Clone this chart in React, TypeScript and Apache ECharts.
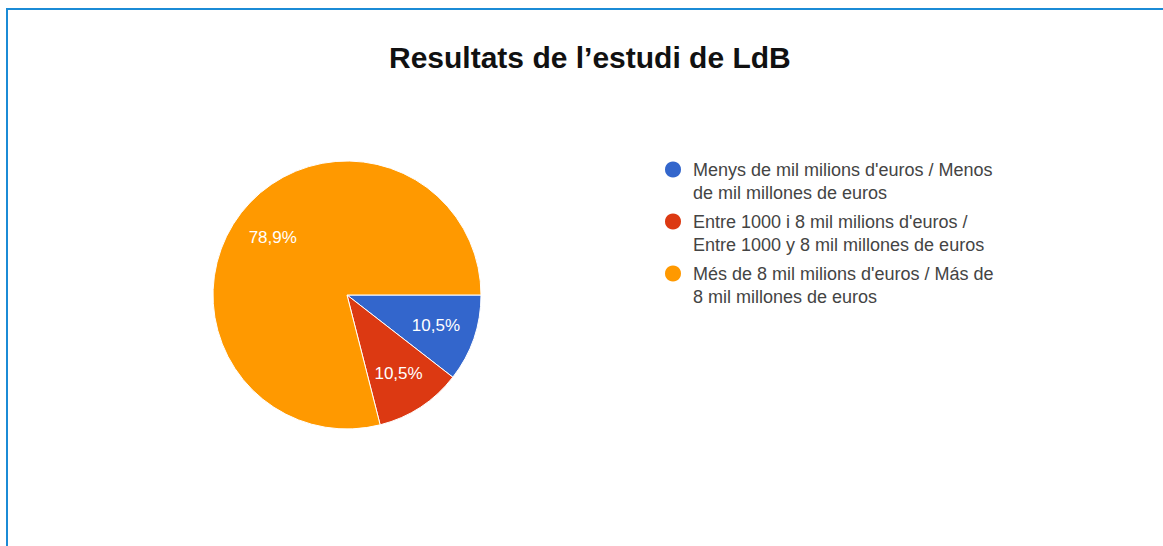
import React, { useEffect, useRef } from "react";
import * as echarts from "echarts";

const titleText = "Resultats de l’estudi de LdB";
const categories = [
  "Menys de mil milions d'euros / Menos de mil millones de euros",
  "Entre 1000 i 8 mil milions d'euros / Entre 1000 y 8 mil millones de euros",
  "Més de 8 mil milions d'euros / Más de 8 mil millones de euros",
];
const legendLabels = [
  "Menys de mil milions d'euros / Menos\nde mil millones de euros",
  "Entre 1000 i 8 mil milions d'euros /\nEntre 1000 y 8 mil millones de euros",
  "Més de 8 mil milions d'euros / Más de\n8 mil millones de euros",
];
const values = [10.5, 10.5, 78.9];
const colors = ["#3366cc", "#dc3912", "#ff9900"];

const FONT = "'Liberation Sans', Arial, sans-serif";

export default function App() {
  const ref = useRef<HTMLDivElement>(null);
  useEffect(() => {
    if (!ref.current) return;
    const chart = echarts.init(ref.current, null, { renderer: "svg" });
    const data = categories.map((name, i) => ({
      name,
      value: values[i],
      itemStyle: { color: colors[i] },
    }));
    const ghostData = categories.map((name, i) => ({
      name,
      value: values[i],
      itemStyle: { color: "rgba(0,0,0,0)" },
    }));
    chart.setOption({
      animation: false,
      backgroundColor: "#ffffff",
      title: {
        text: titleText,
        left: 389,
        top: 42,
        padding: 0,
        textStyle: {
          fontFamily: FONT,
          fontWeight: "bold",
          fontSize: 30,
          color: "#111111",
        },
      },
      legend: {
        orient: "vertical",
        left: 663,
        top: 135,
        padding: 0,
        itemWidth: 30,
        itemHeight: 18,
        itemGap: -17,
        icon: "circle",
        selectedMode: false,
        data: categories,
        formatter: (name: string) =>
          "\n" + legendLabels[categories.indexOf(name)],
        textStyle: {
          fontFamily: FONT,
          fontSize: 18,
          lineHeight: 23,
          color: "#444444",
        },
      },
      graphic: [
        {
          type: "line",
          shape: { x1: 6, y1: 9, x2: 1163, y2: 9 },
          style: { stroke: "#1b8bd6", lineWidth: 2 },
          silent: true,
        },
        {
          type: "line",
          shape: { x1: 7, y1: 8, x2: 7, y2: 546 },
          style: { stroke: "#1b8bd6", lineWidth: 2 },
          silent: true,
        },
      ],
      series: [
        {
          type: "pie",
          center: [347, 295],
          radius: [0, 134],
          startAngle: 0,
          clockwise: true,
          data,
          label: { show: false },
          labelLine: { show: false },
          itemStyle: { borderColor: "#ffffff", borderWidth: 1 },
          emphasis: { disabled: true },
          silent: true,
        },
        {
          type: "pie",
          center: [347, 295],
          radius: [0, 182],
          startAngle: 0,
          clockwise: true,
          data: ghostData,
          silent: true,
          emphasis: { disabled: true },
          labelLine: { show: false },
          label: {
            show: true,
            position: "inside",
            fontFamily: FONT,
            fontSize: 17,
            color: "#ffffff",
            formatter: (p: any) =>
              `${Number(p.value).toFixed(1).replace(".", ",")}%`,
          },
        },
      ],
    });
    return () => chart.dispose();
  }, []);
  return (
    <div
      ref={ref}
      style={{ position: "absolute", left: 0, top: 0, width: 1163, height: 546 }}
    />
  );
}
